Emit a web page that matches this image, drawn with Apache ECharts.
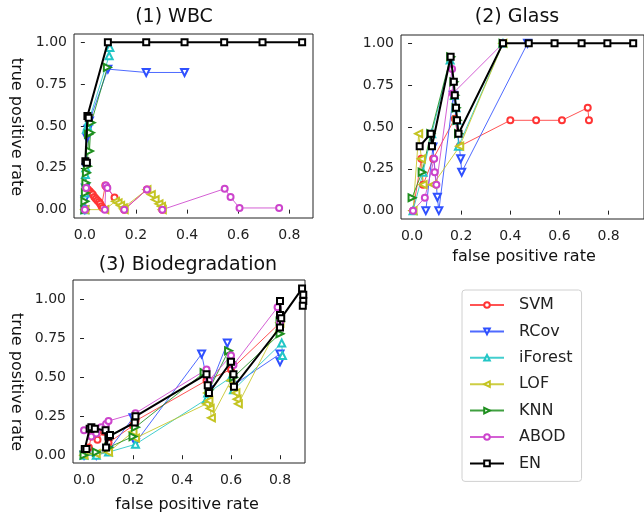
<!DOCTYPE html>
<html>
<head>
<meta charset="utf-8">
<script src="https://cdn.jsdelivr.net/npm/echarts@6/dist/echarts.min.js"></script>
<style>
  html, body { margin: 0; padding: 0; background: #fff; }
  #chart { width: 644px; height: 519px; }
</style>
</head>
<body>
<div id="chart"></div>
<script>
// method names (legend order)
var methods = ['SVM', 'RCov', 'iForest', 'LOF', 'KNN', 'ABOD', 'EN']

// tick values
var xTicks = [0.0, 0.2, 0.4, 0.6, 0.8]
var yTicks = [0.0, 0.25, 0.5, 0.75, 1.0]

// (1) WBC  [false positive rate, true positive rate]
var wbcSVM = [[0.003, 0.0], [0.006, 0.13], [0.012, 0.12], [0.019, 0.11], [0.025, 0.1], [0.031, 0.09], [0.037, 0.075], [0.043, 0.065], [0.049, 0.055], [0.055, 0.045], [0.06, 0.035], [0.065, 0.02], [0.07, 0.01], [0.08, 0.145], [0.085, 0.135], [0.116, 0.072], [0.154, 0.0], [0.243, 0.12], [0.303, 0.0]]
var wbcRCov = [[0.0, 0.0], [0.0, 0.06], [0.002, 0.13], [0.005, 0.25], [0.008, 0.43], [0.012, 0.48], [0.018, 0.53], [0.09, 0.84], [0.24, 0.82], [0.39, 0.82]]
var wbcIForest = [[0.0, 0.0], [0.0, 0.1], [0.002, 0.21], [0.004, 0.25], [0.006, 0.48], [0.01, 0.5], [0.015, 0.53], [0.095, 0.92], [0.098, 0.97]]
var wbcLOF = [[0.0, 0.0], [0.078, 0.0], [0.12, 0.05], [0.13, 0.04], [0.14, 0.025], [0.15, 0.01], [0.154, 0.0], [0.243, 0.12], [0.26, 0.09], [0.275, 0.06], [0.29, 0.035], [0.3, 0.02], [0.303, 0.0]]
var wbcKNN = [[0.0, 0.0], [0.0, 0.05], [0.002, 0.1], [0.004, 0.16], [0.006, 0.22], [0.01, 0.26], [0.014, 0.45], [0.018, 0.35], [0.022, 0.46], [0.025, 0.52], [0.088, 0.85]]
var wbcABOD = [[0.0, 0.0], [0.005, 0.13], [0.078, 0.0], [0.082, 0.145], [0.088, 0.13], [0.154, 0.0], [0.243, 0.12], [0.303, 0.0], [0.547, 0.125], [0.57, 0.075], [0.605, 0.01], [0.76, 0.01]]
var wbcEN = [[0.002, 0.29], [0.008, 0.28], [0.01, 0.56], [0.015, 0.55], [0.09, 1.0], [0.24, 1.0], [0.39, 1.0], [0.545, 1.0], [0.695, 1.0], [0.85, 1.0]]

// (2) Glass
var glassSVM = [[0.004, 0.0], [0.038, 0.31], [0.045, 0.155], [0.086, 0.31], [0.174, 0.55], [0.194, 0.385], [0.4, 0.54], [0.505, 0.54], [0.61, 0.54], [0.715, 0.615], [0.72, 0.54]]
var glassRCov = [[0.056, 0.0], [0.085, 0.38], [0.103, 0.08], [0.109, 0.0], [0.168, 0.69], [0.198, 0.31], [0.202, 0.23], [0.47, 1.0]]
var glassIForest = [[0.004, 0.0], [0.045, 0.23], [0.08, 0.46], [0.155, 0.9], [0.172, 0.69], [0.179, 0.615], [0.183, 0.54], [0.189, 0.385], [0.37, 1.0]]
var glassLOF = [[0.004, 0.0], [0.027, 0.46], [0.038, 0.31], [0.045, 0.155], [0.085, 0.155], [0.194, 0.385], [0.37, 1.0]]
var glassKNN = [[0.0, 0.077], [0.041, 0.23], [0.076, 0.46], [0.157, 0.92], [0.17, 0.77], [0.174, 0.69], [0.179, 0.615], [0.183, 0.54], [0.189, 0.46], [0.37, 1.0]]
var glassABOD = [[0.004, 0.0], [0.052, 0.077], [0.09, 0.31], [0.092, 0.23], [0.099, 0.155], [0.163, 0.847], [0.166, 0.7], [0.37, 1.0]]
var glassEN = [[0.031, 0.385], [0.076, 0.46], [0.081, 0.385], [0.157, 0.92], [0.17, 0.77], [0.174, 0.69], [0.179, 0.615], [0.183, 0.54], [0.189, 0.46], [0.37, 1.0], [0.475, 1.0], [0.58, 1.0], [0.69, 1.0], [0.795, 1.0], [0.9, 1.0]]

// (3) Biodegradation
var bioSVM = [[0.0, 0.0], [0.02, 0.05], [0.03, 0.12], [0.04, 0.14], [0.055, 0.1], [0.08, 0.15], [0.1, 0.08], [0.2, 0.19], [0.21, 0.22], [0.5, 0.48], [0.6, 0.55], [0.8, 0.85]]
var bioRCov = [[0.0, 0.0], [0.05, 0.0], [0.1, 0.03], [0.2, 0.24], [0.21, 0.08], [0.48, 0.65], [0.51, 0.42], [0.585, 0.72], [0.61, 0.45], [0.8, 0.65], [0.8, 0.6]]
var bioIForest = [[0.0, 0.0], [0.05, 0.0], [0.1, 0.02], [0.21, 0.07], [0.5, 0.36], [0.505, 0.4], [0.6, 0.5], [0.61, 0.42], [0.807, 0.72], [0.81, 0.64]]
var bioLOF = [[0.0, 0.0], [0.05, 0.01], [0.1, 0.02], [0.2, 0.15], [0.21, 0.11], [0.5, 0.33], [0.505, 0.4], [0.51, 0.35], [0.515, 0.3], [0.52, 0.24], [0.6, 0.48], [0.61, 0.44], [0.62, 0.4], [0.625, 0.36], [0.63, 0.33], [0.8, 0.85]]
var bioKNN = [[0.0, 0.0], [0.05, 0.02], [0.1, 0.05], [0.2, 0.12], [0.21, 0.18], [0.49, 0.53], [0.51, 0.42], [0.59, 0.67], [0.6, 0.6], [0.61, 0.5], [0.8, 0.78], [0.8, 0.86]]
var bioABOD = [[0.0, 0.16], [0.03, 0.12], [0.05, 0.14], [0.07, 0.18], [0.09, 0.2], [0.1, 0.22], [0.21, 0.27], [0.5, 0.55], [0.51, 0.48], [0.6, 0.64], [0.61, 0.58], [0.79, 0.95], [0.8, 0.85]]
var bioEN = [[0.003, 0.04], [0.01, 0.04], [0.023, 0.17], [0.03, 0.18], [0.044, 0.17], [0.088, 0.16], [0.09, 0.05], [0.1, 0.12], [0.106, 0.13], [0.207, 0.21], [0.21, 0.25], [0.5, 0.52], [0.505, 0.45], [0.51, 0.4], [0.6, 0.6], [0.61, 0.52], [0.612, 0.44], [0.8, 0.82], [0.8, 0.9], [0.8, 0.99], [0.805, 0.88], [0.89, 1.07], [0.895, 1.03], [0.895, 0.99], [0.893, 0.96]]

var panels = [
    [wbcSVM, wbcRCov, wbcIForest, wbcLOF, wbcKNN, wbcABOD, wbcEN],
    [glassSVM, glassRCov, glassIForest, glassLOF, glassKNN, glassABOD, glassEN],
    [bioSVM, bioRCov, bioIForest, bioLOF, bioKNN, bioABOD, bioEN]
]

var font = 'DejaVu Sans'

// line / marker style per method
var styles = {
    SVM: { color: '#ff3535', symbol: 'emptyCircle', size: 6, rotate: 0 },
    RCov: { color: '#2f50ff', symbol: 'emptyTriangle', size: 7, rotate: 180 },
    iForest: { color: '#22c6c6', symbol: 'emptyTriangle', size: 7, rotate: 0 },
    LOF: { color: '#c4c422', symbol: 'emptyTriangle', size: 7, rotate: 90 },
    KNN: { color: '#1f8f1f', symbol: 'emptyTriangle', size: 7, rotate: -90 },
    ABOD: { color: '#cc44cc', symbol: 'emptyCircle', size: 6, rotate: 0 },
    EN: { color: '#000000', symbol: 'emptyRect', size: 6, rotate: 0 }
}

var grids = [
    { left: 74, top: 34, width: 239, height: 184 },
    { left: 401, top: 35, width: 243, height: 184 },
    { left: 73, top: 280, width: 232, height: 183 }
]
var xRanges = [[-0.0425, 0.8925], [-0.045, 0.944], [-0.045, 0.902]]
var yRanges = [[-0.05, 1.05], [-0.05, 1.05], [-0.05, 1.125]]

var myChart = echarts.init(document.getElementById('chart'))

var series = []
panels.forEach(function(panel, p) {
    panel.forEach(function(data, m) {
        var name = methods[m]
        var st = styles[name]
        series.push({
            name: name,
            type: 'line',
            xAxisIndex: p,
            yAxisIndex: p,
            data: data,
            symbol: st.symbol,
            symbolSize: st.size,
            symbolRotate: st.rotate,
            showAllSymbol: true,
            animation: false,
            z: name === 'EN' ? 5 : 2,
            lineStyle: { color: st.color, width: name === 'EN' ? 2 : 1, opacity: name === 'EN' ? 1 : 0.85 },
            itemStyle: { color: st.color, borderWidth: name === 'EN' ? 1.5 : 1 },
            emphasis: { disabled: true }
        })
    })
})

var option = {
    animation: false,
    grid: grids.map(function(g) {
        return Object.assign({ show: true, borderColor: '#222', borderWidth: 1, backgroundColor: 'transparent' }, g)
    }),
    xAxis: xRanges.map(function(r, i) {
        return {
            type: 'value',
            gridIndex: i,
            min: r[0],
            max: r[1],
            splitLine: { show: false },
            axisLine: { show: false },
            axisTick: { show: true, length: 4, customValues: xTicks, lineStyle: { color: '#222' } },
            axisLabel: {
                customValues: xTicks,
                margin: 10,
                color: '#222',
                fontFamily: font,
                fontSize: 14,
                formatter: function(v) { return v.toFixed(1) }
            }
        }
    }),
    yAxis: yRanges.map(function(r, i) {
        return {
            type: 'value',
            gridIndex: i,
            min: r[0],
            max: r[1],
            splitLine: { show: false },
            axisLine: { show: false },
            axisTick: { show: true, length: 4, customValues: yTicks, lineStyle: { color: '#222' } },
            axisLabel: {
                customValues: yTicks,
                margin: 7,
                color: '#222',
                fontFamily: font,
                fontSize: 14,
                formatter: function(v) { return v.toFixed(2) }
            }
        }
    }),
    legend: {
        orient: 'vertical',
        left: 462,
        top: 290,
        data: methods,
        padding: [7, 9, 10, 7],
        itemWidth: 34,
        itemHeight: 7,
        itemGap: 10.4,
        borderColor: '#d0d0d0',
        borderWidth: 1,
        borderRadius: 3,
        textStyle: { fontFamily: font, fontSize: 16, color: '#222', padding: [0, 0, 0, 10] },
        selectedMode: false
    },
    graphic: [
        { type: 'text', x: 174, y: 17, style: { text: '(1) WBC', font: '19px "DejaVu Sans"', fill: '#111', textAlign: 'center', textVerticalAlign: 'middle' } },
        { type: 'text', x: 517, y: 17, style: { text: '(2) Glass', font: '19px "DejaVu Sans"', fill: '#111', textAlign: 'center', textVerticalAlign: 'middle' } },
        { type: 'text', x: 188, y: 265, style: { text: '(3) Biodegradation', font: '19px "DejaVu Sans"', fill: '#111', textAlign: 'center', textVerticalAlign: 'middle' } },
        { type: 'text', x: 524, y: 257, style: { text: 'false positive rate', font: '16px "DejaVu Sans"', fill: '#111', textAlign: 'center', textVerticalAlign: 'middle' } },
        { type: 'text', x: 187, y: 505, style: { text: 'false positive rate', font: '16px "DejaVu Sans"', fill: '#111', textAlign: 'center', textVerticalAlign: 'middle' } },
        { type: 'text', x: 16, y: 127, rotation: -Math.PI / 2, style: { text: 'true positive rate', font: '16px "DejaVu Sans"', fill: '#111', textAlign: 'center', textVerticalAlign: 'middle' } },
        { type: 'text', x: 16, y: 382, rotation: -Math.PI / 2, style: { text: 'true positive rate', font: '16px "DejaVu Sans"', fill: '#111', textAlign: 'center', textVerticalAlign: 'middle' } }
    ],
    series: series
}
myChart.setOption(option)
</script>
</body>
</html>
